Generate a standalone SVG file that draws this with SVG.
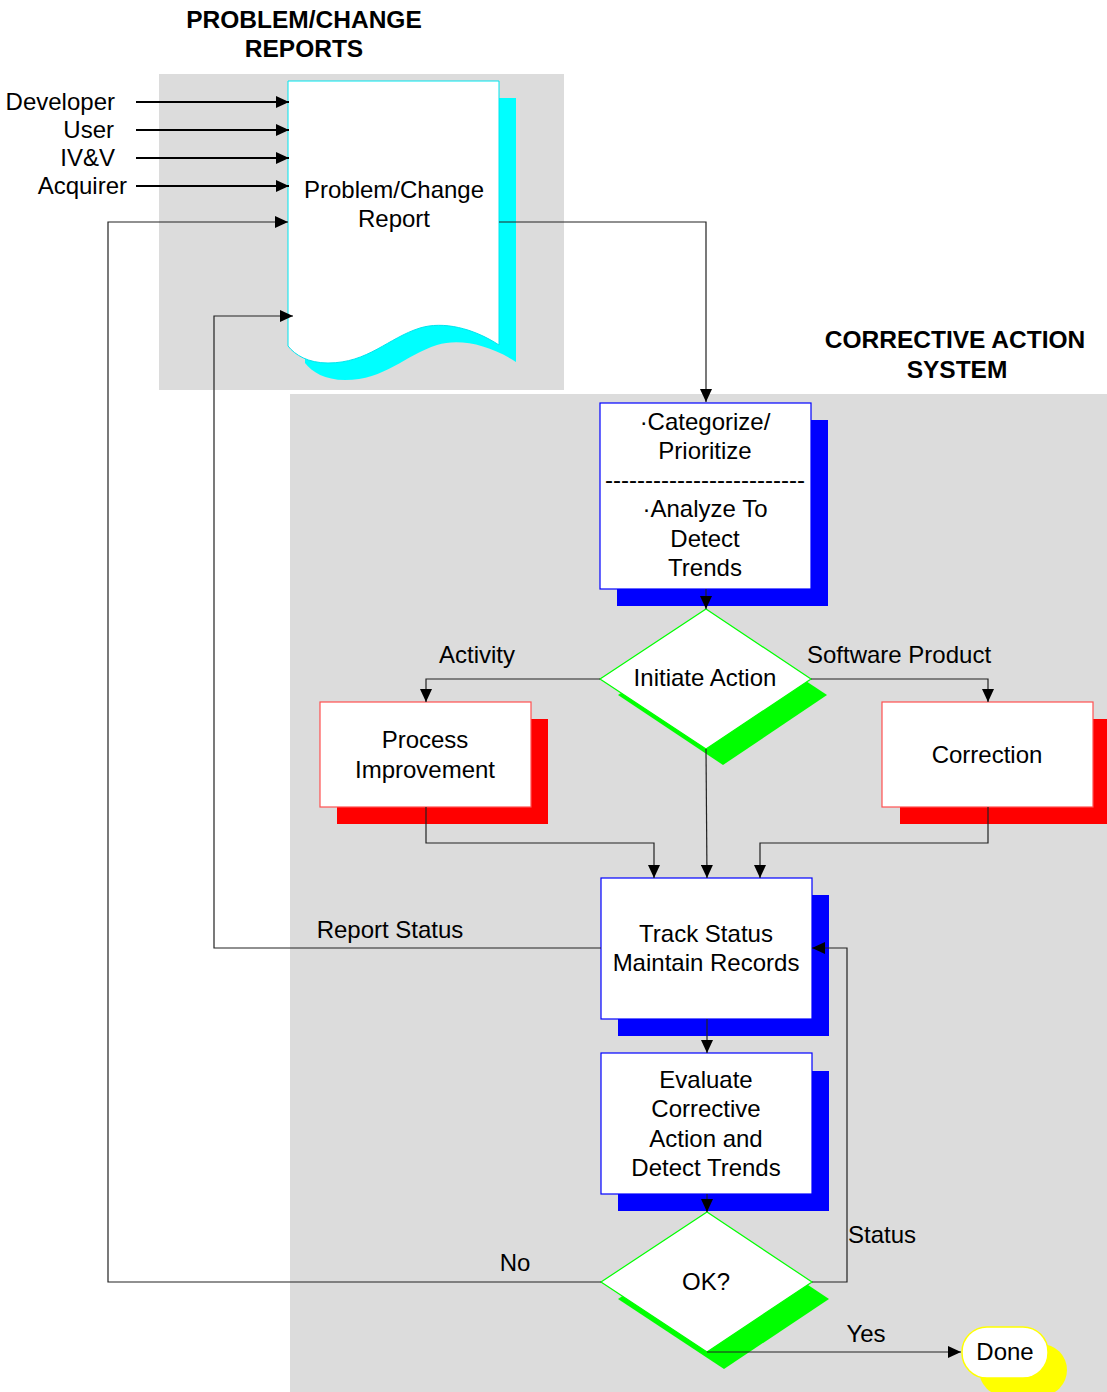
<svg xmlns="http://www.w3.org/2000/svg" width="1107" height="1392" viewBox="0 0 1107 1392">
  <style>
    text { font-family: "Liberation Sans", Arial, sans-serif; font-size: 24px; fill: #000; }
    .c { text-anchor: middle; }
    .e { text-anchor: end; }
    .hd { font-weight: bold; font-size: 24.5px; text-anchor: middle; }
    .ln { fill: none; stroke: #222; stroke-width: 1.2; }
    .thick { fill: none; stroke: #000; stroke-width: 2; }
    .bbox { fill: #fff; stroke: #0000ff; stroke-width: 1.2; }
    .bsh { fill: #0000ff; }
    .rbox { fill: #fff; stroke: #ff5050; stroke-width: 1.2; }
    .rsh { fill: #ff0000; }
    .gsh { fill: #00ff00; }
    .dia { fill: #fff; stroke: #00ff00; stroke-width: 1.2; }
  </style>
  <defs>
    <marker id="ah" markerUnits="userSpaceOnUse" markerWidth="14" markerHeight="12" refX="13" refY="6" orient="auto">
      <path d="M0,0 L13,6 L0,12 Z" fill="#000"/>
    </marker>
  </defs>

  <rect width="1107" height="1392" fill="#fff"/>

  <!-- shaded areas -->
  <rect x="159" y="74" width="405" height="316" fill="#dcdcdc"/>
  <rect x="290" y="394" width="817" height="998" fill="#dcdcdc"/>

  <!-- headings -->
  <text class="hd" x="304" y="28">PROBLEM/CHANGE</text>
  <text class="hd" x="304" y="57">REPORTS</text>
  <text class="hd" x="955" y="348">CORRECTIVE ACTION</text>
  <text class="hd" x="957" y="378">SYSTEM</text>

  <!-- sources -->
  <text class="e" x="115" y="110">Developer</text>
  <text class="e" x="114" y="138">User</text>
  <text class="e" x="115" y="166">IV&amp;V</text>
  <text class="e" x="127" y="194">Acquirer</text>

  <!-- document node -->
  <g id="report">
    <path d="M305,98 H516 V362 C490,345 460,338 437,345 C405,355 385,380 345,380 C325,380 312,372 305,363 Z" fill="#00ffff"/>
    <path d="M288,81 H499 V345 C473,328 443,321 420,328 C388,338 368,363 328,363 C308,363 295,355 288,346 Z" fill="#fff" stroke="#00e5ee" stroke-width="1"/>
    <text class="c" x="394" y="198">Problem/Change</text>
    <text class="c" x="394" y="227">Report</text>
  </g>

  <g id="categorize">
    <rect class="bsh" x="617" y="420" width="211" height="186"/>
    <rect class="bbox" x="600" y="403" width="211" height="186"/>
    <text class="c" x="705" y="430">·Categorize/</text>
    <text class="c" x="705" y="459">Prioritize</text>
    <text class="c" x="705" y="488">-------------------------</text>
    <text class="c" x="705" y="517">·Analyze To</text>
    <text class="c" x="705" y="547">Detect</text>
    <text class="c" x="705" y="576">Trends</text>
  </g>

  <g id="initiate">
    <polygon class="gsh" points="723,626 827,695 723,765 618,695"/>
    <polygon class="dia" points="706,609 811,679 706,749 600,679"/>
    <text class="c" x="705" y="686">Initiate Action</text>
  </g>

  <g id="process">
    <rect class="rsh" x="337" y="719" width="211" height="105"/>
    <rect class="rbox" x="320" y="702" width="211" height="105"/>
    <text class="c" x="425" y="748">Process</text>
    <text class="c" x="425" y="778">Improvement</text>
  </g>

  <g id="correction">
    <rect class="rsh" x="900" y="719" width="211" height="105"/>
    <rect class="rbox" x="882" y="702" width="211" height="105"/>
    <text class="c" x="987" y="763">Correction</text>
  </g>

  <g id="track">
    <rect class="bsh" x="618" y="895" width="211" height="141"/>
    <rect class="bbox" x="601" y="878" width="211" height="141"/>
    <text class="c" x="706" y="942">Track Status</text>
    <text class="c" x="706" y="971">Maintain Records</text>
  </g>

  <g id="evaluate">
    <rect class="bsh" x="618" y="1071" width="211" height="140"/>
    <rect class="bbox" x="601" y="1053" width="211" height="141"/>
    <text class="c" x="706" y="1088">Evaluate</text>
    <text class="c" x="706" y="1117">Corrective</text>
    <text class="c" x="706" y="1147">Action and</text>
    <text class="c" x="706" y="1176">Detect Trends</text>
  </g>

  <g id="ok">
    <polygon class="gsh" points="724,1229 829,1299 724,1369 618,1299"/>
    <polygon class="dia" points="707,1212 812,1282 707,1352 601,1282"/>
    <text class="c" x="706" y="1290">OK?</text>
  </g>

  <g id="done">
    <rect x="979" y="1344" width="88" height="52" rx="26" fill="#ffff00"/>
    <rect x="962" y="1327" width="86" height="51" rx="25" fill="#fff" stroke="#ffff00" stroke-width="1.5"/>
    <text class="c" x="1005" y="1360">Done</text>
  </g>

  <!-- connectors, drawn over the node shadows -->
  <g id="connectors">
    <path class="thick" d="M136,102 H289" marker-end="url(#ah)"/>
    <path class="thick" d="M136,130 H289" marker-end="url(#ah)"/>
    <path class="thick" d="M136,158 H289" marker-end="url(#ah)"/>
    <path class="thick" d="M136,186 H289" marker-end="url(#ah)"/>
    <path class="ln" d="M499,222 H706 V402" marker-end="url(#ah)"/>
    <path class="ln" d="M706,589 V609" marker-end="url(#ah)"/>
    <path class="ln" d="M600,679 H426 V702" marker-end="url(#ah)"/>
    <path class="ln" d="M811,679 H988 V702" marker-end="url(#ah)"/>
    <path class="ln" d="M426,807 V843 H654 V878" marker-end="url(#ah)"/>
    <path class="ln" d="M706,749 L707,878" marker-end="url(#ah)"/>
    <path class="ln" d="M988,807 V843 H760 V878" marker-end="url(#ah)"/>
    <path class="ln" d="M601,948 H214 V316 H293" marker-end="url(#ah)"/>
    <path class="ln" d="M707,1019 V1053" marker-end="url(#ah)"/>
    <path class="ln" d="M707,1194 V1212" marker-end="url(#ah)"/>
    <path class="ln" d="M812,1282 H847 V948 H812" marker-end="url(#ah)"/>
    <path class="ln" d="M601,1282 H108 V222 H288" marker-end="url(#ah)"/>
    <path class="ln" d="M707,1352 H961" marker-end="url(#ah)"/>
    <text class="c" x="477" y="663">Activity</text>
    <text class="c" x="899" y="663">Software Product</text>
    <text class="c" x="390" y="938">Report Status</text>
    <text x="848" y="1243">Status</text>
    <text class="c" x="515" y="1271">No</text>
    <text class="c" x="866" y="1342">Yes</text>
  </g>
</svg>
